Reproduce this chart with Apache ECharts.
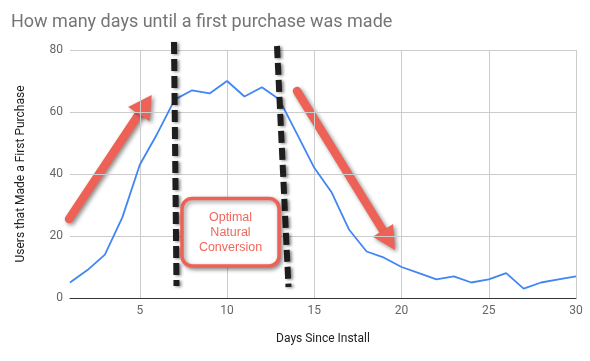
<!DOCTYPE html>
<html><head><meta charset="utf-8">
<script src="https://cdn.jsdelivr.net/npm/echarts@6/dist/echarts.min.js"></script>
<style>html,body{margin:0;padding:0;background:#fff}#c{width:590px;height:361px}</style>
</head><body><div id="c"></div>
<script>
var days = [];
for (var d = 1; d <= 30; d++) days.push(String(d));
var users = [5, 9, 14, 26, 43, 53, 64, 67, 66, 70, 65, 68, 64, 53, 42, 34, 22, 15, 13, 10, 8, 6, 7, 5, 6, 8, 3, 5, 6, 7];
var titleText = 'How many days until a first purchase was made';
var yName = 'Users that Made a First Purchase';
var xName = 'Days Since Install';
var boxText = 'Optimal\nNatural\nConversion';

var RED = '#ee6156';
function arrow(x0, y0, x1, y1, headLen, headHalf, shaftW) {
  var dx = x1 - x0, dy = y1 - y0, L = Math.sqrt(dx*dx + dy*dy);
  var ux = dx / L, uy = dy / L, px = -uy, py = ux;
  var bx = x1 - ux*headLen, by = y1 - uy*headLen;
  return {
    type: 'group', z: 100,
    children: [
      {type: 'line', shape: {x1: x0, y1: y0, x2: bx + ux*2, y2: by + uy*2},
       style: {stroke: RED, lineWidth: shaftW, lineCap: 'round', shadowBlur: 4, shadowColor: 'rgba(0,0,0,0.45)', shadowOffsetX: 2, shadowOffsetY: 2}},
      {type: 'polygon', shape: {points: [[x1, y1], [bx + px*headHalf, by + py*headHalf], [bx - px*headHalf, by - py*headHalf]]},
       style: {fill: RED, shadowBlur: 4, shadowColor: 'rgba(0,0,0,0.45)', shadowOffsetX: 2, shadowOffsetY: 2}}
    ]
  };
}
function dashed(x0, y0, x1, y1) {
  return {type: 'line', z: 90, shape: {x1: x0, y1: y0, x2: x1, y2: y1},
    style: {stroke: '#1e1e1e', lineWidth: 6, lineDash: [12, 5], shadowBlur: 3, shadowColor: 'rgba(0,0,0,0.45)', shadowOffsetX: 2, shadowOffsetY: 1}};
}

var chart = echarts.init(document.getElementById('c'));
chart.setOption({
  animation: false,
  textStyle: {fontFamily: 'Roboto'},
  title: {text: titleText, left: 6, top: 8,
    textStyle: {fontFamily: 'Roboto', fontSize: 18, fontWeight: 'normal', color: '#757575'}},
  grid: {left: 70, right: 14, top: 50, bottom: 63},
  xAxis: {
    type: 'category', data: days, boundaryGap: false,
    name: xName, nameLocation: 'middle', nameGap: 35,
    nameTextStyle: {fontFamily: 'Roboto', fontSize: 12, color: '#222'},
    axisLine: {lineStyle: {color: '#333', width: 1}},
    axisTick: {show: false},
    axisLabel: {color: '#666', fontSize: 12, margin: 7,
      interval: function (i, v) { return Number(v) % 5 === 0; }},
    splitLine: {show: true, lineStyle: {color: '#ccc'},
      interval: function (i, v) { return Number(v) % 5 === 0; }}
  },
  yAxis: {
    type: 'value', min: 0, max: 80, interval: 20,
    name: yName, nameLocation: 'middle', nameGap: 43, nameRotate: 90,
    nameTextStyle: {fontFamily: 'Roboto', fontSize: 12, color: '#222'},
    axisLine: {show: false}, axisTick: {show: false},
    axisLabel: {color: '#666', fontSize: 12, margin: 7},
    splitLine: {lineStyle: {color: '#ccc'}}
  },
  series: [{
    type: 'line', data: users, showSymbol: false, symbol: 'none',
    lineStyle: {color: '#4285f4', width: 1.8}, z: 3
  }],
  graphic: [
    dashed(174, 42, 176.5, 286),
    dashed(277, 46, 288.5, 287),
    arrow(69, 219, 151.7, 95, 23, 13, 8.5),
    arrow(297, 91, 395, 250, 23, 12, 8.5),
    {type: 'rect', z: 110, shape: {x: 182, y: 198.5, width: 97, height: 67.5, r: 10},
     style: {fill: '#fff', stroke: RED, lineWidth: 3.5, shadowBlur: 4, shadowColor: 'rgba(0,0,0,0.4)', shadowOffsetX: 2, shadowOffsetY: 2}},
    {type: 'text', z: 111, x: 230.5, y: 233,
     style: {text: boxText, fill: '#f0675c', font: '12.5px "Liberation Sans", Arial', align: 'center', verticalAlign: 'middle', lineHeight: 15}}
  ]
});
</script>
</body></html>
